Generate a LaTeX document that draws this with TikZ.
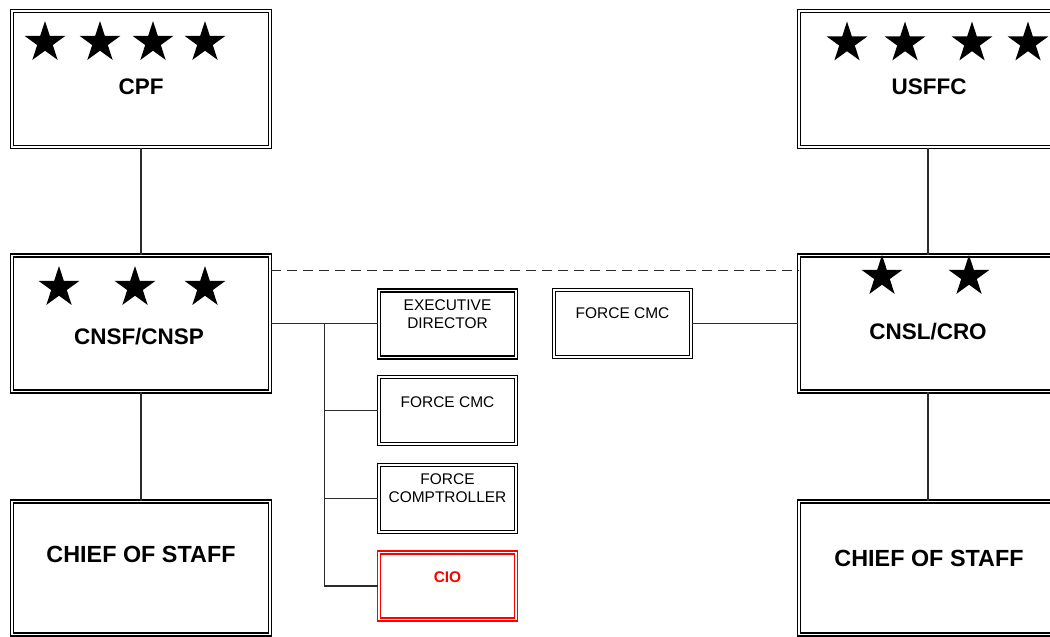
\documentclass[tikz,border=0pt]{standalone}
\usepackage{fontspec}
\setmainfont{Liberation Sans}
\usetikzlibrary{
  shapes.geometric,
  positioning,
  calc
}
\definecolor{ink}{HTML}{000000}
\definecolor{linkgray}{HTML}{2B2B2B}
\definecolor{ciored}{HTML}{FF0000}
\tikzset{
  bigbox/.style={
    draw=#1,
    double=white,
    double distance=1.1pt,
    line width=0.75pt,
    minimum width=5.16cm,
    minimum height=2.72cm,
    inner sep=0pt,
  },
  bigbox/.default=ink,
  smallbox/.style={
    draw=#1,
    double=white,
    double distance=1.1pt,
    line width=0.75pt,
    minimum width=2.74cm,
    minimum height=1.34cm,
    inner sep=0pt,
  },
  smallbox/.default=ink,
  bigtxt/.style={
    font=\fontsize{12.8}{15}\selectfont\bfseries,
    text=ink,
    inner sep=0pt,
  },
  smalltxt/.style={
    font=\fontsize{8.8}{10.2}\selectfont,
    align=center,
    text=#1,
    inner sep=0pt,
  },
  smalltxt/.default=ink,
  rank/.style={
    star,
    star points=5,
    star point ratio=2.618,
    fill=ink,
    draw=none,
    minimum size=0.86cm,
    inner sep=0pt,
  },
  link/.style={
    draw=linkgray,
    line width=0.6pt,
  },
  dashlink/.style={
    link,
    dash pattern=on 5.7pt off 3.4pt,
  },
}

\begin{document}
\begin{tikzpicture}[x=0.02cm, y=-0.02cm]

\useasboundingbox (0,0) rectangle (1050,636);

% === TOP ROW: four-star commands ===

\node[bigbox] (cpf) at (141,79) {};
\node[bigtxt] (cpftxt) at (141,87) {CPF};

\node[bigbox] (usffc) at (928,79) {};
\node[bigtxt] (usffctxt) at (929,87) {USFFC};

% === MIDDLE ROW: type commanders ===

\node[bigbox] (cnsf) at (141,323.5) {};
\node[bigtxt] (cnsftxt) at (139,337) {CNSF/CNSP};

\node[bigbox] (cnsl) at (928,323.5) {};
\node[bigtxt] (cnsltxt) at (928,332) {CNSL/CRO};

% === BOTTOM ROW: chiefs of staff ===

\node[bigbox, minimum height=2.66cm] (coslt) at (141,568) {};
\node[bigtxt, font=\fontsize{13.3}{15}\selectfont\bfseries] (cosltxt) at (141,554) {CHIEF OF STAFF};

\node[bigbox, minimum height=2.66cm] (cosrt) at (928,568) {};
\node[bigtxt, font=\fontsize{13.3}{15}\selectfont\bfseries] (cosrttxt) at (929,558) {CHIEF OF STAFF};

% === Stars ===

\foreach \sx [count=\i] in {45,100,153,205}
  \node[rank] (cpfstar\i) at (\sx,42.5) {};
\foreach \sx [count=\i] in {847,905,972,1028}
  \node[rank] (usffcstar\i) at (\sx,43) {};
\foreach \sx [count=\i] in {59,135,205}
  \node[rank] (cnsfstar\i) at (\sx,287.5) {};
\foreach \sx [count=\i] in {882,969}
  \node[rank] (cnslstar\i) at (\sx,276.5) {};

% === Special staff ===

\node[smallbox] (exec) at (447.5,324) {};
\node[smalltxt] (exectxt) at (447.5,314) {EXECUTIVE\\DIRECTOR};

\node[smallbox] (fcmcl) at (447.5,410.5) {};
\node[smalltxt] (fcmcltxt) at (447.5,402) {FORCE CMC};

\node[smallbox] (comp) at (447.5,498.5) {};
\node[smalltxt] (comptxt) at (447.5,488.5) {FORCE\\COMPTROLLER};

\node[smallbox=ciored] (cio) at (447.5,586) {};
\node[smalltxt=ciored, font=\fontsize{8.8}{10.2}\selectfont\bfseries] (ciotxt) at (447.5,577) {CIO};

\node[smallbox] (fcmcr) at (622.5,323.5) {};
\node[smalltxt] (fcmcrtxt) at (622.5,313) {FORCE CMC};

% === Connectors ===

\draw[link] (cpf) -- (cnsf);
\draw[link] (usffc) -- (cnsl);
\draw[link] (cnsf) -- (coslt);
\draw[link] (cnsl) -- (cosrt);

\draw[link] (cnsf.east) -- (cnsf.east -| exec.west);
\coordinate (tap) at ($(cnsf.east)!0.5!(cnsf.east -| exec.west)$);
\draw[link] (tap) |- (fcmcl.west);
\draw[link] (tap) |- (comp.west);
\draw[link] (tap) |- (cio.west);

\draw[link] (fcmcr.east) -- (fcmcr.east -| cnsl.west);

% coordination line
\coordinate (dashl) at ($(cnsf.north east)+(0,16)$);
\draw[dashlink] (dashl) -- (dashl -| cnsl.west);

\end{tikzpicture}
\end{document}
